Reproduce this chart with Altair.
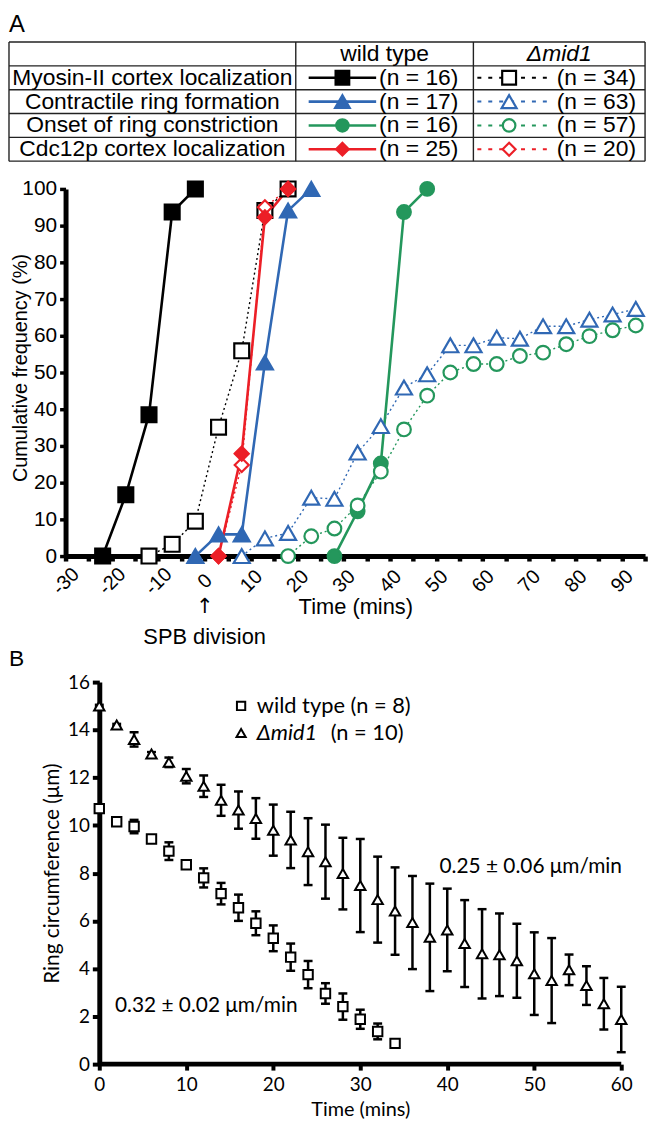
import altair as alt
import pandas as pd

# ------------------------------------------------------------------
# Panel A data: cumulative frequency (%) vs time (mins)
# ------------------------------------------------------------------
EVENTS = ["Myosin-II cortex localization", "Contractile ring formation",
          "Onset of ring constriction", "Cdc12p cortex localization"]
GENOTYPES = ["wild type", "Δmid1"]
N_WT = [16, 17, 16, 25]
N_MID = [34, 63, 57, 20]
EVENT_COLORS = ["#000000", "#3068b4", "#24975c", "#ec1f27"]
EVENT_SHAPES = ["square", "triangle-up", "circle", "diamond"]
EVENT_SIZES = [225, 260, 190, 200]

wt_myo_t = [-22, -17, -12, -7, -2]
wt_myo_v = [0, 16.7, 38.5, 93.7, 100]
mid_myo_t = [-12, -7, -2, 3, 8, 13, 18]
mid_myo_v = [0, 3.2, 9.5, 35.1, 55.9, 94.1, 100]
wt_ring_t = [-2, 3, 8, 13, 18, 23]
wt_ring_v = [0, 5.9, 5.9, 52.7, 94.1, 100]
mid_ring_t = [8, 13, 18, 23, 28, 33, 38, 43, 48, 53, 58, 63, 68, 73, 78, 83, 88, 93]
mid_ring_v = [0, 4.8, 6.3, 15.9, 15.6, 28.2, 35.4, 45.9, 49.5, 57.4, 57.4, 59.5,
              59.2, 62.6, 62.6, 64.4, 65.8, 67.3]
wt_onset_t = [28, 33, 38, 43, 48]
wt_onset_v = [0, 12.2, 25.2, 93.7, 100]
mid_onset_t = [18, 23, 28, 33, 38, 43, 48, 53, 58, 63, 68, 73, 78, 83, 88, 93]
mid_onset_v = [0, 5.4, 7.5, 13.8, 23.0, 34.5, 43.7, 50.0, 52.3, 52.3, 54.5, 55.4,
               57.7, 59.9, 61.5, 62.8]
wt_cdc_t = [3, 8, 13, 18]
wt_cdc_v = [0, 27.9, 92.3, 100]
mid_cdc_t = [3, 8, 13, 18]
mid_cdc_v = [0, 24.8, 95.0, 100]

SPB_LABEL = "SPB division"

# ------------------------------------------------------------------
# Panel B data: ring circumference (um) vs time (mins)
# ------------------------------------------------------------------
b_wt_t = [0, 2, 4, 6, 8, 10, 12, 14, 16, 18, 20, 22, 24, 26, 28, 30, 32, 34]
b_wt_v = [10.70, 10.15, 9.95, 9.43, 8.92, 8.35, 7.80, 7.14, 6.55, 5.90, 5.27, 4.48,
          3.75, 2.96, 2.41, 1.88, 1.37, 0.87]
b_wt_e = [0.05, 0.12, 0.28, 0.12, 0.37, 0.08, 0.40, 0.45, 0.55, 0.50, 0.54, 0.57,
          0.57, 0.43, 0.55, 0.40, 0.33, 0.05]
b_mid_t = [0, 2, 4, 6, 8, 10, 12, 14, 16, 18, 20, 22, 24, 26, 28, 30, 32, 34, 36, 38,
           40, 42, 44, 46, 48, 50, 52, 54, 56, 58, 60]
b_mid_v = [15.0, 14.2, 13.6, 12.99, 12.64, 12.06, 11.64, 11.05, 10.64, 10.29, 9.80,
           9.39, 8.90, 8.48, 7.98, 7.48, 6.89, 6.41, 5.93, 5.31, 5.62, 5.05, 4.62,
           4.58, 4.33, 3.79, 3.50, 3.95, 3.29, 2.53, 1.87]
b_mid_e = [0.05, 0.05, 0.30, 0.08, 0.20, 0.30, 0.45, 0.65, 0.78, 0.85, 1.07, 1.18,
           1.40, 1.55, 1.50, 1.95, 1.80, 1.83, 1.95, 2.25, 1.73, 1.82, 1.87, 1.73,
           1.55, 1.73, 1.78, 0.64, 0.81, 1.08, 1.37]
B_LEGEND = ["wild type (n = 8)", "Δmid1", "(n = 10)"]
B_RATES = ["0.25 ± 0.06 μm/min", "0.32 ± 0.02 μm/min"]

FONT_A = "Liberation Sans"
FONT_B = "Lato"

# ------------------------------------------------------------------
# Panel A
# ------------------------------------------------------------------
a_series = [
    (0, "wild type", wt_myo_t, wt_myo_v),
    (0, "Δmid1", mid_myo_t, mid_myo_v),
    (1, "wild type", wt_ring_t, wt_ring_v),
    (1, "Δmid1", mid_ring_t, mid_ring_v),
    (3, "Δmid1", mid_cdc_t, mid_cdc_v),
    (3, "wild type", wt_cdc_t, wt_cdc_v),
    (2, "wild type", wt_onset_t, wt_onset_v),
    (2, "Δmid1", mid_onset_t, mid_onset_v),
]
rows = []
for k, (ei, geno, ts, vs) in enumerate(a_series):
    for t, v in zip(ts, vs):
        rows.append({
            "series": f"{EVENTS[ei]} | {geno}", "geno": geno, "time": t, "freq": v,
            "col": EVENT_COLORS[ei],
            "fillcol": EVENT_COLORS[ei] if geno == "wild type" else "white",
            "shape": EVENT_SHAPES[ei], "msize": EVENT_SIZES[ei], "k": k,
        })
df_a = pd.DataFrame(rows)

W_A, H_A = 584, 370
LEFT_EXT = 57  # room left of the plot for the y title / table / panel letter

x_a = alt.X("time:Q", scale=alt.Scale(domain=[-30, 95], nice=False, zero=False),
            axis=alt.Axis(
                values=list(range(-30, 96, 5)),
                labelExpr="(datum.value % 10 === 0 && datum.value <= 90) ? '' + datum.value : ''",
                labelAngle=315, labelAlign="center", labelBaseline="middle",
                labelPadding=20, labelFont=FONT_A, labelFontSize=20,
                labelOverlap=False, labelFlush=False,
                tickSize=5, tickWidth=4.5, domainWidth=5,
                title="Time (mins)", titleFont=FONT_A, titleFontSize=22,
                titleY=41, titleBaseline="top"))
y_a = alt.Y("freq:Q", scale=alt.Scale(domain=[0, 100], nice=False),
            axis=alt.Axis(
                values=list(range(0, 101, 10)), labelFont=FONT_A, labelFontSize=21,
                labelPadding=3, labelOverlap=False, tickSize=6, tickWidth=3.5,
                domainWidth=5, title="Cumulative frequency (%)", titleFont=FONT_A,
                titleFontSize=20, titleX=-(LEFT_EXT - 2), titleY=H_A / 2 - 5,
                titleBaseline="top", titleAngle=270, titleAlign="center"))

lines_wt = alt.Chart(df_a).transform_filter(alt.datum.geno == "wild type").mark_line(
    strokeWidth=2.6).encode(x=x_a, y=y_a, stroke=alt.Stroke("col:N", scale=None),
                            detail="series:N", order="time:Q")
lines_mid = alt.Chart(df_a).transform_filter(alt.datum.geno == "Δmid1").mark_line(
    strokeWidth=1.4, strokeDash=[2, 3]).encode(
    x=x_a, y=y_a, stroke=alt.Stroke("col:N", scale=None),
    detail="series:N", order="time:Q")
points_a = alt.Chart(df_a).mark_point(filled=True, opacity=1, fillOpacity=1,
                                      strokeWidth=2.2).encode(
    x=x_a, y=y_a,
    shape=alt.Shape("shape:N", scale=None),
    size=alt.Size("msize:Q", scale=None),
    stroke=alt.Stroke("col:N", scale=None),
    fill=alt.Fill("fillcol:N", scale=None),
)
df_spb = pd.DataFrame({"time": [0, 0], "freq": [-14.0, -22.0], "label": ["↑", SPB_LABEL]})
arrow_a = alt.Chart(df_spb.iloc[[0]]).mark_text(
    font="DejaVu Sans", fontSize=21, color="black", baseline="middle").encode(
    x=x_a, y=y_a, text="label:N")
spb_a = alt.Chart(df_spb.iloc[[1]]).mark_text(
    font=FONT_A, fontSize=22, color="black", baseline="middle").encode(
    x=x_a, y=y_a, text="label:N")

plot_a = alt.layer(lines_mid, lines_wt, points_a, arrow_a, spb_a)

# ------------------------------------------------------------------
# Legend table above Panel A (own scales, drawn above the plot area)
# ------------------------------------------------------------------
ROW_PX = 24
TBL_TOP_ABOVE = 148            # table top is this many px above the plot
COL_EDGES = [0, 289, 468, 641]
WT_LINE = [302, 370]
WT_MARK = 336
WT_TEXT = 373
MID_LINE = [472, 549]
MID_MARK = 504
MID_TEXT = 552

tx = alt.Scale(domain=[LEFT_EXT, LEFT_EXT + W_A], nice=False, zero=False)
ty = alt.Scale(domain=[TBL_TOP_ABOVE / ROW_PX, TBL_TOP_ABOVE / ROW_PX + H_A / ROW_PX],
               nice=False, zero=False, reverse=True)

df_h = pd.DataFrame({"x0": [COL_EDGES[0]] * 6, "x1": [COL_EDGES[-1]] * 6,
                     "y": [0, 1, 2, 3, 4, 5]})
df_v = pd.DataFrame({"x": COL_EDGES, "y0": [0] * 4, "y1": [5] * 4})
hl = alt.Chart(df_h).mark_rule(color="#222", strokeWidth=1.4).encode(
    x=alt.X("x0:Q", scale=tx, axis=None), x2="x1:Q",
    y=alt.Y("y:Q", scale=ty, axis=None))
vl = alt.Chart(df_v).mark_rule(color="#222", strokeWidth=1.4).encode(
    x=alt.X("x:Q", scale=tx, axis=None),
    y=alt.Y("y0:Q", scale=ty, axis=None), y2="y1:Q")

rows_t = []
for i, ev in enumerate(EVENTS):
    rows_t.append({"ev": ev, "y": i + 1.5, "col": EVENT_COLORS[i],
                   "shape": EVENT_SHAPES[i], "msize": EVENT_SIZES[i] - 30,
                   "nwt": f"(n = {N_WT[i]})", "nmid": f"(n = {N_MID[i]})",
                   "wx0": WT_LINE[0], "wx1": WT_LINE[1], "wm": WT_MARK, "wt": WT_TEXT,
                   "mx0": MID_LINE[0], "mx1": MID_LINE[1], "mm": MID_MARK, "mt": MID_TEXT,
                   "cx": (COL_EDGES[0] + COL_EDGES[1]) / 2})
df_t = pd.DataFrame(rows_t)
ytab = alt.Y("y:Q", scale=ty, axis=None)
row_lbl = alt.Chart(df_t).mark_text(font=FONT_A, fontSize=23, color="black",
                                    align="center", baseline="middle").encode(
    x=alt.X("cx:Q", scale=tx, axis=None), y=ytab, text="ev:N")
wt_line_t = alt.Chart(df_t).mark_rule(strokeWidth=2.6).encode(
    x=alt.X("wx0:Q", scale=tx, axis=None), x2="wx1:Q", y=ytab,
    stroke=alt.Stroke("col:N", scale=None))
wt_mark_t = alt.Chart(df_t).mark_point(filled=True, opacity=1, strokeWidth=2).encode(
    x=alt.X("wm:Q", scale=tx, axis=None), y=ytab,
    shape=alt.Shape("shape:N", scale=None), size=alt.Size("msize:Q", scale=None),
    fill=alt.Fill("col:N", scale=None), stroke=alt.Stroke("col:N", scale=None))
wt_txt_t = alt.Chart(df_t).mark_text(font=FONT_A, fontSize=23, color="black",
                                     align="left", baseline="middle").encode(
    x=alt.X("wt:Q", scale=tx, axis=None), y=ytab, text="nwt:N")
mid_line_t = alt.Chart(df_t).mark_rule(strokeWidth=2, strokeDash=[4, 7]).encode(
    x=alt.X("mx0:Q", scale=tx, axis=None), x2="mx1:Q", y=ytab,
    stroke=alt.Stroke("col:N", scale=None))
mid_mark_t = alt.Chart(df_t).mark_point(filled=True, opacity=1, fill="white",
                                        strokeWidth=2.2).encode(
    x=alt.X("mm:Q", scale=tx, axis=None), y=ytab,
    shape=alt.Shape("shape:N", scale=None), size=alt.Size("msize:Q", scale=None),
    stroke=alt.Stroke("col:N", scale=None))
mid_txt_t = alt.Chart(df_t).mark_text(font=FONT_A, fontSize=23, color="black",
                                      align="left", baseline="middle").encode(
    x=alt.X("mt:Q", scale=tx, axis=None), y=ytab, text="nmid:N")

df_hdr = pd.DataFrame({
    "x": [(COL_EDGES[1] + COL_EDGES[2]) / 2, (COL_EDGES[2] + COL_EDGES[3]) / 2],
    "y": [0.5, 0.5], "txt": GENOTYPES})
hdr_wt = alt.Chart(df_hdr.iloc[[0]]).mark_text(
    font=FONT_A, fontSize=23, color="black", baseline="middle").encode(
    x=alt.X("x:Q", scale=tx, axis=None), y=ytab, text="txt:N")
hdr_mid = alt.Chart(df_hdr.iloc[[1]]).mark_text(
    font=FONT_A, fontSize=23, color="black", baseline="middle",
    fontStyle="italic").encode(
    x=alt.X("x:Q", scale=tx, axis=None), y=ytab, text="txt:N")
df_letter_a = pd.DataFrame({"x": [0], "y": [-0.71], "txt": ["A"]})
letter_a = alt.Chart(df_letter_a).mark_text(
    font=FONT_A, fontSize=24, color="black", align="left", baseline="middle").encode(
    x=alt.X("x:Q", scale=tx, axis=None), y=ytab, text="txt:N")

table = alt.layer(hl, vl, row_lbl, hdr_wt, hdr_mid, wt_line_t, wt_mark_t, wt_txt_t,
                  mid_line_t, mid_mark_t, mid_txt_t, letter_a)

chart_a = alt.layer(plot_a, table).resolve_scale(
    x="independent", y="independent").properties(width=W_A, height=H_A)

# ------------------------------------------------------------------
# Panel B
# ------------------------------------------------------------------
W_B, H_B = W_A, 385
B_ORIGIN_PX = 34
B_RIGHT_PX = W_B - B_ORIGIN_PX - 526
px_per_min = (W_B - B_ORIGIN_PX - B_RIGHT_PX) / 60
x_b_scale = alt.Scale(domain=[-B_ORIGIN_PX / px_per_min, 60 + B_RIGHT_PX / px_per_min],
                      nice=False, zero=False)
y_b_scale = alt.Scale(domain=[0, 16], nice=False)

x_b = alt.X("t:Q", scale=x_b_scale, axis=alt.Axis(
    values=[0, 10, 20, 30, 40, 50, 60], domain=False, tickSize=6, tickWidth=4,
    labelFont=FONT_B, labelFontSize=19, labelPadding=6, labelFlush=False,
    title="Time (mins)", titleFont=FONT_B, titleFontSize=20, titleY=56,
    titleX=B_ORIGIN_PX + 30 * px_per_min, titleAlign="center",
    titleBaseline="bottom"))
y_b = alt.Y("v:Q", scale=y_b_scale, axis=alt.Axis(
    values=list(range(0, 17, 2)), offset=-B_ORIGIN_PX, tickSize=7, tickWidth=4,
    domainWidth=5, labelFont=FONT_B, labelFontSize=19, labelPadding=3,
    labelOverlap=False, title="Ring circumference (μm)", titleFont=FONT_B,
    titleFontSize=21, titlePadding=5))

df_bw = pd.DataFrame({"t": b_wt_t, "v": b_wt_v, "e": b_wt_e})
df_bm = pd.DataFrame({"t": b_mid_t, "v": b_mid_v, "e": b_mid_e})


def err_layers(d):
    bars_df = pd.DataFrame({"t": d["t"], "v": d["v"] - d["e"], "v2": d["v"] + d["e"]})
    caps_df = pd.concat([
        pd.DataFrame({"t": d["t"], "v": d["v"] - d["e"]}),
        pd.DataFrame({"t": d["t"], "v": d["v"] + d["e"]}),
    ], ignore_index=True)
    bars = alt.Chart(bars_df).mark_rule(color="black", strokeWidth=2.5).encode(
        x=x_b, y=y_b, y2="v2:Q")
    caps = alt.Chart(caps_df).mark_tick(color="black", orient="horizontal", size=9,
                                        thickness=2.5, opacity=1).encode(x=x_b, y=y_b)
    return [bars, caps]


sq_b = alt.Chart(df_bw).mark_point(shape="square", size=90, filled=True, fill="white",
                                   stroke="black", strokeWidth=2, opacity=1).encode(
    x=x_b, y=y_b)
tri_b = alt.Chart(df_bm).mark_point(shape="triangle-up", size=110, filled=True,
                                    fill="white", stroke="black", strokeWidth=2,
                                    opacity=1).encode(x=x_b, y=y_b)

df_axis_b = pd.DataFrame({"t": [0], "t2": [60], "v": [0]})
xaxis_line = alt.Chart(df_axis_b).mark_rule(color="black", strokeWidth=5).encode(
    x=x_b, x2="t2:Q", y=y_b)

df_leg = pd.DataFrame({"t": [16.3, 16.3], "v": [15.0, 13.87],
                       "shape": ["square", "triangle-up"], "msize": [70, 85]})
leg_marks = alt.Chart(df_leg).mark_point(filled=True, fill="white", stroke="black",
                                         strokeWidth=2, opacity=1).encode(
    x=x_b, y=y_b, shape=alt.Shape("shape:N", scale=None),
    size=alt.Size("msize:Q", scale=None))
df_leg_t = pd.DataFrame({"t": [18.1, 18.1, 26.6], "v": [15.0, 13.87, 13.87],
                         "txt": B_LEGEND})
leg_t1 = alt.Chart(df_leg_t.iloc[[0, 2]]).mark_text(
    font=FONT_B, fontSize=22, align="left", baseline="middle", color="black").encode(
    x=x_b, y=y_b, text="txt:N")
leg_t2 = alt.Chart(df_leg_t.iloc[[1]]).mark_text(
    font=FONT_B, fontSize=22, align="left", baseline="middle", color="black",
    fontStyle="italic").encode(x=x_b, y=y_b, text="txt:N")
df_rate = pd.DataFrame({"t": [39.1, 1.8], "v": [8.26, 2.45], "txt": B_RATES})
rate_t = alt.Chart(df_rate).mark_text(
    font=FONT_B, fontSize=21, align="left", baseline="middle", color="black").encode(
    x=x_b, y=y_b, text="txt:N")
df_letter_b = pd.DataFrame({"t": [-(LEFT_EXT + B_ORIGIN_PX) / px_per_min],
                            "v": [16 + 23 / (H_B / 16)], "txt": ["B"]})
letter_b = alt.Chart(df_letter_b).mark_text(
    font=FONT_A, fontSize=23, align="left", baseline="middle", color="black").encode(
    x=x_b, y=y_b, text="txt:N")

chart_b = alt.layer(*err_layers(df_bw), *err_layers(df_bm), xaxis_line, sq_b, tri_b,
                    leg_marks, leg_t1, leg_t2, rate_t, letter_b).properties(
    width=W_B, height=H_B)

chart = alt.vconcat(chart_a, chart_b, spacing=0).resolve_scale(
    x="independent", y="independent").properties(
    padding=0, background="white").configure_view(stroke=None).configure_axis(
    grid=False, domainColor="black", tickColor="black", labelColor="black",
    titleColor="black", titleFontWeight="normal")

chart.save("out.html", embed_options={"renderer": "svg", "actions": False})
